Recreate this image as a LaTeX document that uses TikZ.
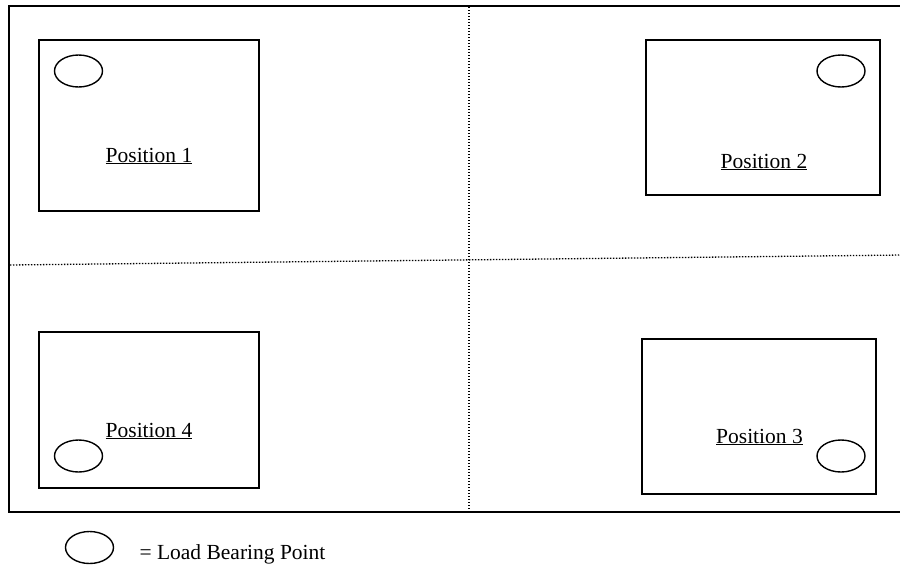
\documentclass[tikz,border=0pt]{standalone}
\usepackage{fontspec}
\setmainfont{Liberation Serif}
\tikzset{
	frame/.style={line width=2pt},
	box/.style={line width=1.6pt},
	divider/.style={line width=1.3pt, dash pattern=on 1.3pt off 1.7pt},
	bearing/.style={draw, ellipse, line width=1.4pt, minimum width=48pt, minimum height=32pt, inner sep=0pt},
	poslabel/.style={anchor=base, font=\fontsize{21.5}{25}\selectfont}
}
\usetikzlibrary{shapes.geometric}
\begin{document}
\begin{tikzpicture}[x=1pt, y=-1pt]
		\useasboundingbox (0,0) rectangle (900,565);
		% outer frame and the two dotted dividers
		\draw[frame] (903,6) -- (9,6) -- (9,512) -- (903,512);
		\draw[divider] (469,7) -- (469,511);
		\draw[divider] (10,265) -- (903,255);
		% the four positions
		\draw[box] (39,40) rectangle (259,211);
		\draw[box] (646,40) rectangle (880,195);
		\draw[box] (642,339) rectangle (876,494);
		\draw[box] (39,332) rectangle (259,488);
		\node[poslabel] (lab1) at (149,162) {\underline{Position 1}};
		\node[poslabel] (lab2) at (764,168) {\underline{Position 2}};
		\node[poslabel] (lab3) at (759.5,443) {\underline{Position 3}};
		\node[poslabel] (lab4) at (149,437) {\underline{Position 4}};
		\node[bearing] (lb1) at (78.5,71) {};
		\node[bearing] (lb2) at (841,71) {};
		\node[bearing] (lb3) at (841,456) {};
		\node[bearing] (lb4) at (78.5,456) {};
		% legend
		\node[bearing] (key) at (89.5,547.5) {};
		\node[poslabel, anchor=base west] (keytext) at (136,559) {= Load Bearing Point};
	\end{tikzpicture}
\end{document}
